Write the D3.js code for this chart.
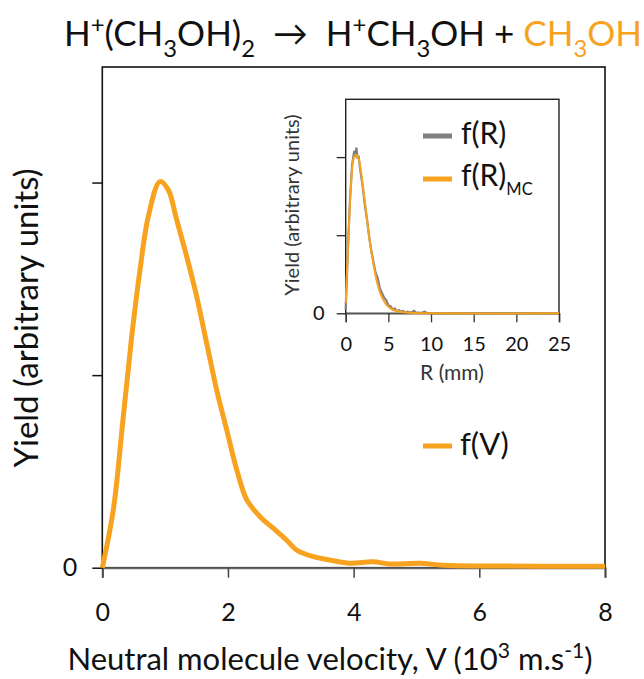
<!DOCTYPE html>
<html>
<head>
<meta charset="utf-8">
<script src="https://cdn.jsdelivr.net/npm/d3@7"></script>
<style>
  body { margin: 0; background: #fff; }
  text { font-family: Lato, "Open Sans", sans-serif; fill: #111; white-space: pre; }
</style>
</head>
<body>
<svg id="chart" width="644" height="679"></svg>
<script>
// ---- data ----
// main curve f(V): velocity (10^3 m/s) and yield
var velocity = [0, 0.175, 0.334, 0.468, 0.60, 0.732, 0.918, 1.05, 1.184, 1.343, 1.502, 1.661, 1.82, 1.98,
                2.14, 2.30, 2.51, 2.72, 2.93, 3.09, 3.36, 3.62, 3.94, 4.31, 4.58, 5.06, 5.37, 6.0, 8.0];
var yieldV   = [0, 0.30, 0.784, 1.20, 1.546, 1.823, 2.005, 1.962, 1.806, 1.616, 1.408, 1.166, 0.923, 0.715,
                0.508, 0.352, 0.265, 0.205, 0.144, 0.092, 0.057, 0.040, 0.023, 0.031, 0.019, 0.023, 0.014, 0.009, 0.008];

// inset: measured f(R) (grey) and Monte Carlo f(R)_MC (orange), R in mm
var radiusR = [0, 0.25, 0.5, 0.75, 1.0, 1.1, 1.25, 1.4, 1.5, 1.75, 2.0, 2.25, 2.5, 2.75, 3.0, 3.25, 3.5, 3.75,
               4.0, 4.25, 4.5, 4.75, 5.0, 5.25, 5.5, 5.75, 6.0, 6.25, 6.5, 6.75, 7.0, 7.25, 7.5, 7.75, 8.0,
               8.25, 8.5, 8.75, 9.0, 9.25, 9.5, 9.75, 10, 25];
var yieldR  = [0.05, 0.80, 1.45, 1.90, 2.08, 2.00, 2.12, 1.98, 2.02, 1.80, 1.62, 1.38, 1.20, 0.98, 0.80, 0.66,
               0.52, 0.45, 0.32, 0.26, 0.20, 0.17, 0.10, 0.09, 0.05, 0.06, 0.03, 0.04, 0.02, 0.03, 0.01, 0.02,
               0.01, 0.015, 0.03, 0.005, 0.01, 0.005, 0.01, 0.02, 0.005, 0, 0, 0];
var radiusMC = [0, 0.31, 0.59, 0.89, 1.17, 1.48, 1.76, 2.07, 2.46, 2.85, 3.24, 3.71, 4.22, 4.8, 5.6, 6.77, 7.97, 9, 25];
var yieldMC  = [0.128, 0.94, 1.58, 1.965, 2.03, 1.99, 1.84, 1.58, 1.24, 0.90, 0.64, 0.385, 0.213, 0.106, 0.042, 0.013, 0.005, 0, 0];

var mainXTicks = [0, 2, 4, 6, 8];
var mainYTicks = [0, 1, 2];
var insetXTicks = [0, 5, 10, 15, 20, 25];
var insetYTicks = [0, 1, 2];

var orange = "#f7a31f", grey = "#7f7f7f";
var svg = d3.select("#chart");

// write text made of pieces: [string, "sup"|"sub"|"", colour, size ratio]
function richText(sel, parts, size) {
    var shift = 0;
    parts.forEach(function(p) {
        var t = sel.append("tspan").text(p[0]);
        var want = p[1] == "sup" ? -0.38 * size : p[1] == "sub" ? 0.3 * size : 0;
        t.attr("dy", want - shift);
        shift = want;
        if (p[1]) t.attr("font-size", size * (p[3] || 0.68));
        if (p[2]) t.style("fill", p[2]);
    });
}

// ---- title ----
richText(svg.append("text").attr("x", 353).attr("y", 46).attr("text-anchor", "middle").attr("font-size", 35),
    [["H"], ["+", "sup"], ["(CH"], ["3", "sub"], ["OH)"], ["2", "sub"], ["  \u2192  H"], ["+", "sup"],
     ["CH"], ["3", "sub"], ["OH + "], ["CH", "", orange], ["3", "sub", orange], ["OH", "", orange]], 35);

// ---- main plot ----
var x = d3.scaleLinear().domain([0, 8]).range([102.3, 605]);
var y = d3.scaleLinear().domain([0, 2.6]).range([567.7, 67]);

svg.append("rect").attr("x", 102.3).attr("y", 67).attr("width", 605 - 102.3).attr("height", 567.7 - 67)
    .attr("fill", "none").attr("stroke", "#111").attr("stroke-width", 1.6);

var gx = svg.append("g").attr("transform", "translate(0," + y(0) + ")")
    .call(d3.axisBottom(x).tickValues(mainXTicks).tickSize(10).tickPadding(26));
gx.select(".domain").attr("stroke", "#666").attr("stroke-width", 2);
gx.selectAll(".tick line").attr("stroke", "#444").attr("stroke-width", 1.5);
gx.selectAll(".tick text").attr("font-size", 25).attr("font-family", "Lato, sans-serif").attr("fill", "#111");

var gy = svg.append("g").attr("transform", "translate(" + x(0) + ",0)")
    .call(d3.axisLeft(y).tickValues(mainYTicks).tickSize(10).tickPadding(15)
        .tickFormat(function(d) { return d == 0 ? "0" : ""; }));
gy.select(".domain").remove();
gy.selectAll(".tick line").attr("stroke", "#111").attr("stroke-width", 1.5);
gy.selectAll(".tick text").attr("font-size", 25).attr("font-family", "Lato, sans-serif").attr("fill", "#111");

var lineV = d3.line().x(function(d, i) { return x(velocity[i]); }).y(function(d) { return y(d); })
    .curve(d3.curveCatmullRom);
svg.append("path").attr("d", lineV(yieldV)).attr("fill", "none")
    .attr("stroke", orange).attr("stroke-width", 5).attr("stroke-linejoin", "round");

richText(svg.append("text").attr("x", 330).attr("y", 670).attr("text-anchor", "middle").attr("font-size", 31),
    [["Neutral molecule velocity, V (10"], ["3", "sup"], [" m.s"], ["-1", "sup"], [")"]], 31);
svg.append("text").attr("transform", "translate(38,318) rotate(-90)").attr("text-anchor", "middle")
    .attr("font-size", 33).text("Yield (arbitrary units)");

// legend f(V)
svg.append("line").attr("x1", 423).attr("x2", 452).attr("y1", 446).attr("y2", 446)
    .attr("stroke", orange).attr("stroke-width", 5);
svg.append("text").attr("x", 460).attr("y", 455).attr("font-size", 31).text("f(V)");

// ---- inset ----
var ix = d3.scaleLinear().domain([0, 25]).range([345.7, 559]);
var iy = d3.scaleLinear().domain([0, 2.74]).range([313.3, 99.3]);

svg.append("rect").attr("x", 345.7).attr("y", 99.3).attr("width", 559 - 345.7).attr("height", 313.3 - 99.3)
    .attr("fill", "#fff").attr("stroke", "#222").attr("stroke-width", 1.4);

var gix = svg.append("g").attr("transform", "translate(0," + iy(0) + ")")
    .call(d3.axisBottom(ix).tickValues(insetXTicks).tickSize(9).tickPadding(15));
gix.select(".domain").attr("stroke", "#555").attr("stroke-width", 1.6);
gix.selectAll(".tick line").attr("stroke", "#333").attr("stroke-width", 1.3);
gix.selectAll(".tick text").attr("font-size", 20).attr("font-family", "Lato, sans-serif").attr("fill", "#333");

var giy = svg.append("g").attr("transform", "translate(" + ix(0) + ",0)")
    .call(d3.axisLeft(iy).tickValues(insetYTicks).tickSize(9).tickPadding(12)
        .tickFormat(function(d) { return d == 0 ? "0" : ""; }));
giy.select(".domain").remove();
giy.selectAll(".tick line").attr("stroke", "#222").attr("stroke-width", 1.3);
giy.selectAll(".tick text").attr("font-size", 20).attr("font-family", "Lato, sans-serif").attr("fill", "#333");

var lineR = d3.line().x(function(d, i) { return ix(radiusR[i]); }).y(function(d) { return iy(d); });
svg.append("path").attr("d", lineR(yieldR)).attr("fill", "none")
    .attr("stroke", grey).attr("stroke-width", 2.2);
var lineMC = d3.line().x(function(d, i) { return ix(radiusMC[i]); }).y(function(d) { return iy(d); })
    .curve(d3.curveCatmullRom);
svg.append("path").attr("d", lineMC(yieldMC)).attr("fill", "none")
    .attr("stroke", orange).attr("stroke-width", 2);

svg.append("text").attr("x", 452).attr("y", 380).attr("text-anchor", "middle").attr("font-size", 21)
    .style("fill", "#333").text("R (mm)");
svg.append("text").attr("transform", "translate(299,205) rotate(-90)").attr("text-anchor", "middle")
    .attr("font-size", 20).style("fill", "#333").text("Yield (arbitrary units)");

// inset legend
svg.append("line").attr("x1", 423).attr("x2", 452).attr("y1", 136).attr("y2", 136)
    .attr("stroke", grey).attr("stroke-width", 5);
svg.append("text").attr("x", 461).attr("y", 144).attr("font-size", 30).text("f(R)");
svg.append("line").attr("x1", 423).attr("x2", 452).attr("y1", 179).attr("y2", 179)
    .attr("stroke", orange).attr("stroke-width", 5);
richText(svg.append("text").attr("x", 461).attr("y", 186).attr("font-size", 30),
    [["f(R)"], ["MC", "sub", null, 0.55]], 30);
</script>
</body>
</html>
